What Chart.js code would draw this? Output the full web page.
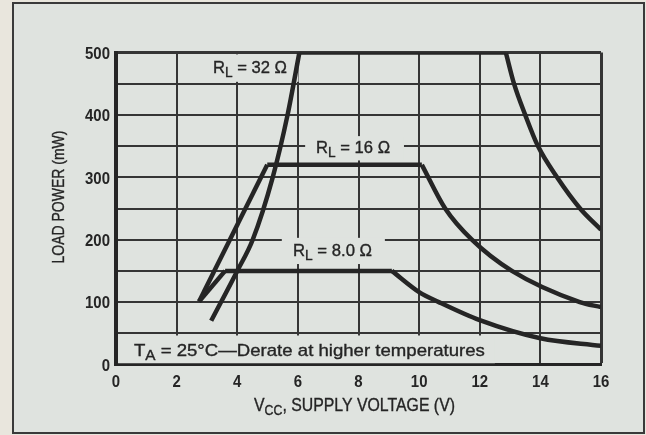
<!DOCTYPE html>
<html>
<head>
<meta charset="utf-8">
<script src="https://cdn.jsdelivr.net/npm/chart.js@4.4.1/dist/chart.umd.min.js"></script>
<style>
  html, body { margin: 0; padding: 0; background: #e9e6dd; }
  canvas { display: block; }
</style>
</head>
<body>
<canvas id="power-chart" width="646" height="435"></canvas>
<script>
// 负载功率 vs 电源电压，三条负载曲线（数据按 [V, mW]）
const xTicks = [0, 2, 4, 6, 8, 10, 12, 14, 16];
const yTicks = [0, 100, 200, 300, 400, 500];

// R_L = 32 Ω
const r32Rise = [[3.14, 70], [4.0, 150], [4.51, 200], [5.17, 300], [5.66, 400], [6.05, 500]];
const r32Flat = [[6.05, 500], [12.86, 500]];
const r32Fall = [[12.86, 500], [13.13, 450], [13.5, 400], [13.92, 350], [14.55, 300], [15.31, 250], [16, 216]];

// R_L = 16 Ω
const r16Rise = [[2.74, 101], [4.99, 320]];
const r16Flat = [[4.99, 320], [10.09, 320]];
const r16Fall = [[10.09, 320], [10.86, 250], [11.74, 200], [13.06, 150], [15.3, 100], [16, 92]];

// R_L = 8.0 Ω
const r8Rise = [[2.74, 101], [3.6, 150]];
const r8Flat = [[3.6, 150], [9.1, 150]];
const r8Fall = [[9.1, 150], [10, 116], [10.65, 100], [12, 71], [14, 42], [16, 30]];

// 曲线标注：左端 V、基线 mW、宽度(px)，遮挡网格的底框
const curveLabels = [
    { parts: [['R'], ['L', 'sub'], [' = 32 \u03A9']], x: 3.2, y: 466.7, w: 74, box: [2.94, 6.02, 497, 453] },
    { parts: [['R'], ['L', 'sub'], [' = 16 \u03A9']], x: 6.6, y: 338.5, w: 74, box: [6.24, 9.5, 366, 327] },
    { parts: [['R'], ['L', 'sub'], [' = 8.0 \u03A9']], x: 5.84, y: 173.9, w: 79, box: [5.47, 8.87, 203, 161] },
    { parts: [['T'], ['A', 'sub'], [' = 25\u00B0C\u2014Derate at higher temperatures']], x: 0.59, y: 13.6, w: 351, box: [0.07, 12.5, 46.5, 2] }
];

const FAMILY = "'Liberation Sans', Arial, sans-serif";
const INK = '#252525';
const GRID = '#353535';
const PAPER = '#dfe3df';

function toXY(arr) {
    return arr.map(p => ({ x: p[0], y: p[1] }));
}

function curve(arr, smooth) {
    return {
        data: toXY(arr),
        showLine: true,
        borderColor: INK,
        borderWidth: 4.5,
        pointRadius: 0,
        fill: false,
        tension: 0,
        cubicInterpolationMode: smooth ? 'monotone' : 'default',
        borderCapStyle: 'butt',
        borderJoinStyle: 'miter'
    };
}

// 带下标的文字，按给定宽度（或比例）横向压缩
function drawRich(ctx, parts, x, baseline, width, size, weight, align) {
    const subSize = Math.round(size * 0.8);
    let total = 0;
    const runs = parts.map(p => {
        const sub = p[1] === 'sub';
        ctx.font = `${weight} ${sub ? subSize : size}px ${FAMILY}`;
        const w = ctx.measureText(p[0]).width;
        total += w;
        return { text: p[0], sub, w };
    });
    const sx = width > 0 ? width / total : -width;
    let start = 0;
    if (align === 'right') start = -total;
    if (align === 'center') start = -total / 2;
    ctx.save();
    ctx.translate(x, baseline);
    ctx.scale(sx, 1);
    ctx.fillStyle = INK;
    ctx.strokeStyle = INK;
    ctx.lineWidth = 0.35;
    ctx.textBaseline = 'alphabetic';
    ctx.textAlign = 'left';
    let cx = start;
    runs.forEach(r => {
        ctx.font = `${weight} ${r.sub ? subSize : size}px ${FAMILY}`;
        ctx.fillText(r.text, cx, r.sub ? 4 : 0);
        if (weight === 'normal') ctx.strokeText(r.text, cx, r.sub ? 4 : 0);
        cx += r.w;
    });
    ctx.restore();
}

const framePlugin = {
    id: 'frame',
    beforeDraw(chart) {
        const ctx = chart.ctx;
        ctx.save();
        ctx.fillStyle = '#e9e6dd';
        ctx.fillRect(0, 0, chart.width, chart.height);
        ctx.fillStyle = PAPER;
        ctx.fillRect(13, 3, 631, 430);
        ctx.strokeStyle = '#3a3a3a';
        ctx.lineWidth = 2;
        ctx.strokeRect(13, 3, 631, 430);
        ctx.restore();
    }
};

const labelPlugin = {
    id: 'curveLabels',
    beforeDatasetsDraw(chart) {
        const ctx = chart.ctx;
        const xs = chart.scales.x, ys = chart.scales.y;
        ctx.save();
        ctx.fillStyle = PAPER;
        curveLabels.forEach(l => {
            const x0 = xs.getPixelForValue(l.box[0]);
            const x1 = xs.getPixelForValue(l.box[1]);
            const y0 = ys.getPixelForValue(l.box[2]);
            const y1 = ys.getPixelForValue(l.box[3]);
            ctx.fillRect(x0, y0, x1 - x0, y1 - y0);
        });
        ctx.restore();
    },
    afterDatasetsDraw(chart) {
        const ctx = chart.ctx;
        const xs = chart.scales.x, ys = chart.scales.y;
        curveLabels.forEach(l => {
            drawRich(ctx, l.parts, xs.getPixelForValue(l.x), ys.getPixelForValue(l.y), l.w, 17, 'normal');
        });

        // 刻度数字（窄体粗字）
        xTicks.forEach(v => {
            drawRich(ctx, [[String(v)]], xs.getPixelForValue(v), 386.5, -0.88, 17, 'bold', 'center');
        });
        yTicks.forEach(v => {
            drawRich(ctx, [[String(v)]], 110, ys.getPixelForValue(v) + 6.2, -0.88, 17, 'bold', 'right');
        });

        // 坐标轴标题
        drawRich(ctx, [['V'], ['CC', 'sub'], [', SUPPLY VOLTAGE (V)']], 254, 411, 201, 18, 'normal');
        ctx.save();
        ctx.translate(64, 197);
        ctx.rotate(-Math.PI / 2);
        drawRich(ctx, [['LOAD POWER (mW)']], -66.5, 0, 133, 17, 'normal');
        ctx.restore();
    }
};

function gridWidth(edge) {
    return ctx => (ctx.tick && ctx.tick.value === edge ? 3 : 2);
}

const chart = new Chart(document.getElementById('power-chart'), {
    type: 'scatter',
    data: {
        datasets: [
            curve(r32Rise, true), curve(r32Flat, false), curve(r32Fall, true),
            curve(r16Rise, false), curve(r16Flat, false), curve(r16Fall, true),
            curve(r8Rise, false), curve(r8Flat, false), curve(r8Fall, true)
        ]
    },
    options: {
        responsive: false,
        animation: false,
        devicePixelRatio: 1,
        layout: { padding: { top: 52.5, right: 45, bottom: 0, left: 0 } },
        plugins: { legend: { display: false }, tooltip: { enabled: false } },
        scales: {
            x: {
                type: 'linear',
                min: 0,
                max: 16,
                afterFit: s => { s.height = 70.5; },
                afterBuildTicks: s => { s.ticks = xTicks.map(v => ({ value: v })); },
                ticks: { display: false },
                grid: { color: GRID, lineWidth: gridWidth(16), drawTicks: false },
                border: { color: INK, width: 3 }
            },
            y: {
                type: 'linear',
                min: 0,
                max: 500,
                afterFit: s => { s.width = 116; },
                afterBuildTicks: s => {
                    const t = [];
                    for (let v = 0; v <= 500; v += 50) t.push({ value: v });
                    s.ticks = t;
                },
                ticks: { display: false },
                grid: { color: GRID, lineWidth: gridWidth(500), drawTicks: false },
                border: { color: INK, width: 4 }
            }
        }
    },
    plugins: [framePlugin, labelPlugin]
});
</script>
</body>
</html>
